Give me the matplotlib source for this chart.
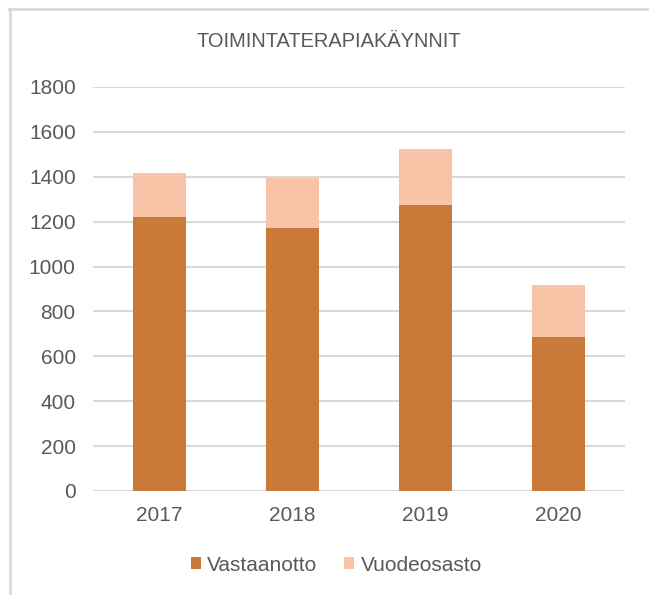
# Toimintaterapiakäynnit 2017-2020, stacked bars
import matplotlib
matplotlib.use('Agg')
import matplotlib.pyplot as plt
from matplotlib.lines import Line2D
import numpy as np

years = ['2017', '2018', '2019', '2020']
vastaanotto = [1220, 1170, 1273, 685]
vuodeosasto = [196, 223, 251, 233]

c_vast = '#CA7A38'
c_vuod = '#F9C3A8'
txt = '#595959'
grid = '#D9D9D9'

plt.rcParams['font.family'] = ['Liberation Sans', 'DejaVu Sans']

fig = plt.figure(figsize=(6.49, 5.95), dpi=100)
ax = fig.add_axes([0.1433, 0.1748, 0.963 - 0.1433, 0.679])

x = np.arange(len(years))
ax.bar(x, vastaanotto, width=0.4, color=c_vast, label='Vastaanotto', zorder=3)
ax.bar(x, vuodeosasto, width=0.4, bottom=vastaanotto, color=c_vuod, label='Vuodeosasto', zorder=3)

ax.set_xlim(-0.5, len(years) - 0.5)
ax.set_ylim(0, 1800)
ax.set_yticks(range(0, 1801, 200))
ax.set_xticks(x)
ax.set_xticklabels(years)
ax.yaxis.grid(True, color=grid, linewidth=1.5, zorder=0)
for s in ax.spines.values():
    s.set_visible(False)
ax.tick_params(axis='both', length=0, labelsize=15, colors=txt)
ax.tick_params(axis='y', pad=12.5)
ax.tick_params(axis='x', pad=11)

fig.text(0.507, 0.931, 'TOIMINTATERAPIAKÄYNNIT', ha='center', va='center',
         fontsize=14.4, color=txt)

leg = fig.legend(loc='center', bbox_to_anchor=(0.518, 0.0504), ncol=2, frameon=False,
                 fontsize=15, handlelength=0.48, handleheight=0.48, handletextpad=0.3,
                 columnspacing=1.3)
for t in leg.get_texts():
    t.set_color(txt)

# chart area border (top and left visible)
fig.add_artist(Line2D([9 / 649, 1], [1 - 9 / 595, 1 - 9 / 595], color=grid, lw=2,
                      transform=fig.transFigure))
fig.add_artist(Line2D([10 / 649, 10 / 649], [0, 1 - 9 / 595], color=grid, lw=2,
                      transform=fig.transFigure))

plt.savefig('out.png', dpi=100)
plt.close()
